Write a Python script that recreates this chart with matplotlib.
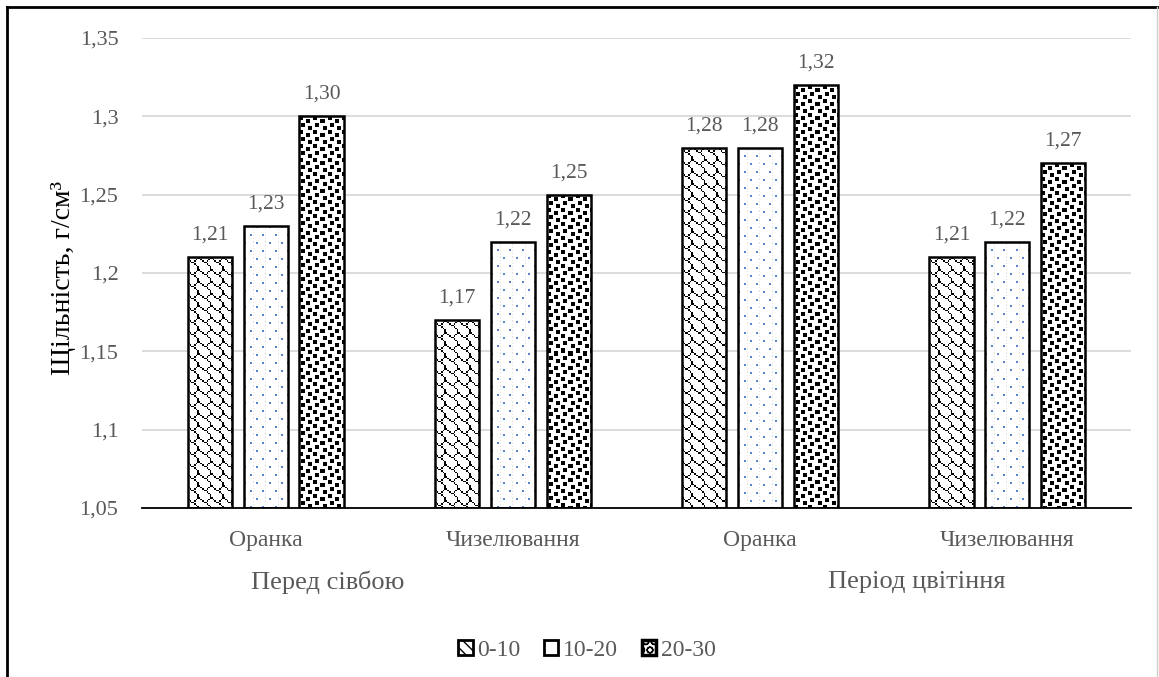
import numpy as np
import matplotlib
matplotlib.use("Agg")
import matplotlib.pyplot as plt
from matplotlib.patches import Patch
from matplotlib.lines import Line2D

# ---- data ----
categories = ["Оранка", "Чизелювання", "Оранка", "Чизелювання"]
groups = ["Перед сівбою", "Період цвітіння"]
series_names = ["0-10", "10-20", "20-30"]
s_0_10 = [1.21, 1.17, 1.28, 1.21]
s_10_20 = [1.23, 1.22, 1.28, 1.22]
s_20_30 = [1.30, 1.25, 1.32, 1.27]
yticks = [1.05, 1.10, 1.15, 1.20, 1.25, 1.30, 1.35]
ytick_labels = ["1,05", "1,1", "1,15", "1,2", "1,25", "1,3", "1,35"]
ylabel = "Щільність, г/см³"

plt.rcParams['font.family'] = ['Liberation Serif', 'DejaVu Serif']
GREY = '#595959'

W, H = 1159, 677
fig = plt.figure(figsize=(W / 100, H / 100), dpi=100)
ax = fig.add_axes([142 / W, 1 - 508 / H, (1131 - 142) / W, (508 - 38) / H])

x = np.arange(len(categories))
bw = 0.178
step = 0.226
base = 1.05
series = [s_0_10, s_10_20, s_20_30]

# pattern tiles (1 = ink)
shingle = np.array([
    [0, 0, 0, 0, 0, 0, 1, 1],
    [1, 0, 0, 0, 0, 1, 0, 0],
    [0, 1, 0, 0, 1, 0, 0, 0],
    [0, 0, 1, 1, 0, 0, 0, 0],
    [0, 0, 0, 0, 1, 0, 0, 0],
    [0, 0, 0, 0, 0, 1, 0, 0],
    [0, 0, 0, 0, 0, 0, 1, 0],
    [0, 0, 0, 0, 0, 0, 1, 0],
])
confetti = np.zeros((14, 14), int)
for (r, c) in [(0, 0), (3, 7), (7, 2), (10, 9)]:
    for dr in range(4):
        for dc in range(4):
            confetti[(r + dr) % 14, (c + dc) % 14] = 1


def tile_rgb(mask, ink=(0, 0, 0)):
    img = np.ones(mask.shape + (3,))
    img[mask == 1] = ink
    return img


t_shingle = tile_rgb(shingle)
t_confetti = tile_rgb(confetti)
# dotted pattern: blue dots, faint grey vertical dashes
dots = np.ones((16, 12, 3))
for yy in range(0, 16, 3):
    dots[yy, 9] = (0.88, 0.88, 0.9)
for (r, c) in [(0, 0), (8, 6)]:
    for dr in range(2):
        for dc in range(2):
            dots[r + dr, c + dc] = (0.35, 0.52, 0.82)
tiles = [(t_shingle, 1.5), (dots, 1.0), (t_confetti, 1.0)]

ax.set_xlim(-0.5, len(categories) - 0.5)
ax.set_ylim(1.05, 1.35)

containers = []
for i, vals in enumerate(series):
    pos = x + (i - 1) * step
    bc = ax.bar(pos, np.array(vals) - base, bottom=base, width=bw,
                facecolor='none', edgecolor='black', linewidth=1.8, zorder=3)
    containers.append(bc)

fig.canvas.draw()
for i, bc in enumerate(containers):
    tile, sc = tiles[i]
    for rect in bc.patches:
        x0, y0 = rect.get_x(), rect.get_y()
        x1, y1 = x0 + rect.get_width(), y0 + rect.get_height()
        p0 = ax.transData.transform((x0, y0))
        p1 = ax.transData.transform((x1, y1))
        pw = max(1, int(round((p1[0] - p0[0]) / sc)))
        ph = max(1, int(round((p1[1] - p0[1]) / sc)))
        th, tw = tile.shape[:2]
        reps = (ph // th + 2, pw // tw + 2, 1)
        img = np.tile(tile, reps)[:ph, :pw]
        im = ax.imshow(img, extent=(x0, x1, y0, y1), origin='upper',
                       interpolation='nearest', aspect='auto', zorder=2)
        im.set_clip_path(rect)
    # value labels
    for rect, v in zip(bc.patches, series[i]):
        ax.annotate(f"{v:.2f}".replace('.', ','),
                    (rect.get_x() + rect.get_width() / 2, v),
                    xytext=(0, 9), textcoords='offset points',
                    ha='center', va='bottom', fontsize=15.5, color=GREY)

ax.set_xlim(-0.5, len(categories) - 0.5)
ax.set_ylim(1.05, 1.35)
ax.set_yticks(yticks)
ax.set_yticklabels(ytick_labels, fontsize=16, color=GREY)
ax.tick_params(axis='y', length=0, pad=17)
ax.set_xticks(x)
ax.set_xticklabels(categories, fontsize=17, color=GREY)
ax.tick_params(axis='x', length=0, pad=16)
ax.yaxis.grid(True, color='#d9d9d9', linewidth=1.3, zorder=0)
ax.set_axisbelow(True)
for s in ['top', 'right', 'left']:
    ax.spines[s].set_visible(False)
ax.spines['bottom'].set_color('black')
ax.spines['bottom'].set_linewidth(1.3)

ax.set_ylabel(ylabel, fontsize=20, color='black')
ax.yaxis.set_label_coords((76 - 142) / 989, (508 - 278) / 470)

# group labels
fig.text(328 / W, 1 - 582 / H, groups[0], ha='center', va='center', fontsize=19, color=GREY)
fig.text(917 / W, 1 - 582 / H, groups[1], ha='center', va='center', fontsize=19, color=GREY)

handles = [
    Patch(facecolor='white', edgecolor='black', hatch='\\\\\\', linewidth=2),
    Patch(facecolor='white', edgecolor='black', linewidth=2),
    Patch(facecolor='white', edgecolor='black', hatch='OO', linewidth=2.5),
]
leg = fig.legend(handles, series_names, loc='center', bbox_to_anchor=(587 / W, 1 - 650 / H),
                 ncol=3, frameon=False, fontsize=17, handlelength=0.6, handleheight=0.6,
                 handletextpad=0.2, columnspacing=1.0)
for t in leg.get_texts():
    t.set_color(GREY)

# figure border (top/left black, right faint)
fig.add_artist(Line2D([7 / W, 7 / W], [0, 1 - 7 / H], transform=fig.transFigure, color='black', lw=2))
fig.add_artist(Line2D([7 / W, 1], [1 - 7 / H, 1 - 7 / H], transform=fig.transFigure, color='black', lw=2))
fig.add_artist(Line2D([1157 / W, 1157 / W], [0, 1 - 7 / H], transform=fig.transFigure, color='#cccccc', lw=1))

fig.savefig('out.png', dpi=100)
